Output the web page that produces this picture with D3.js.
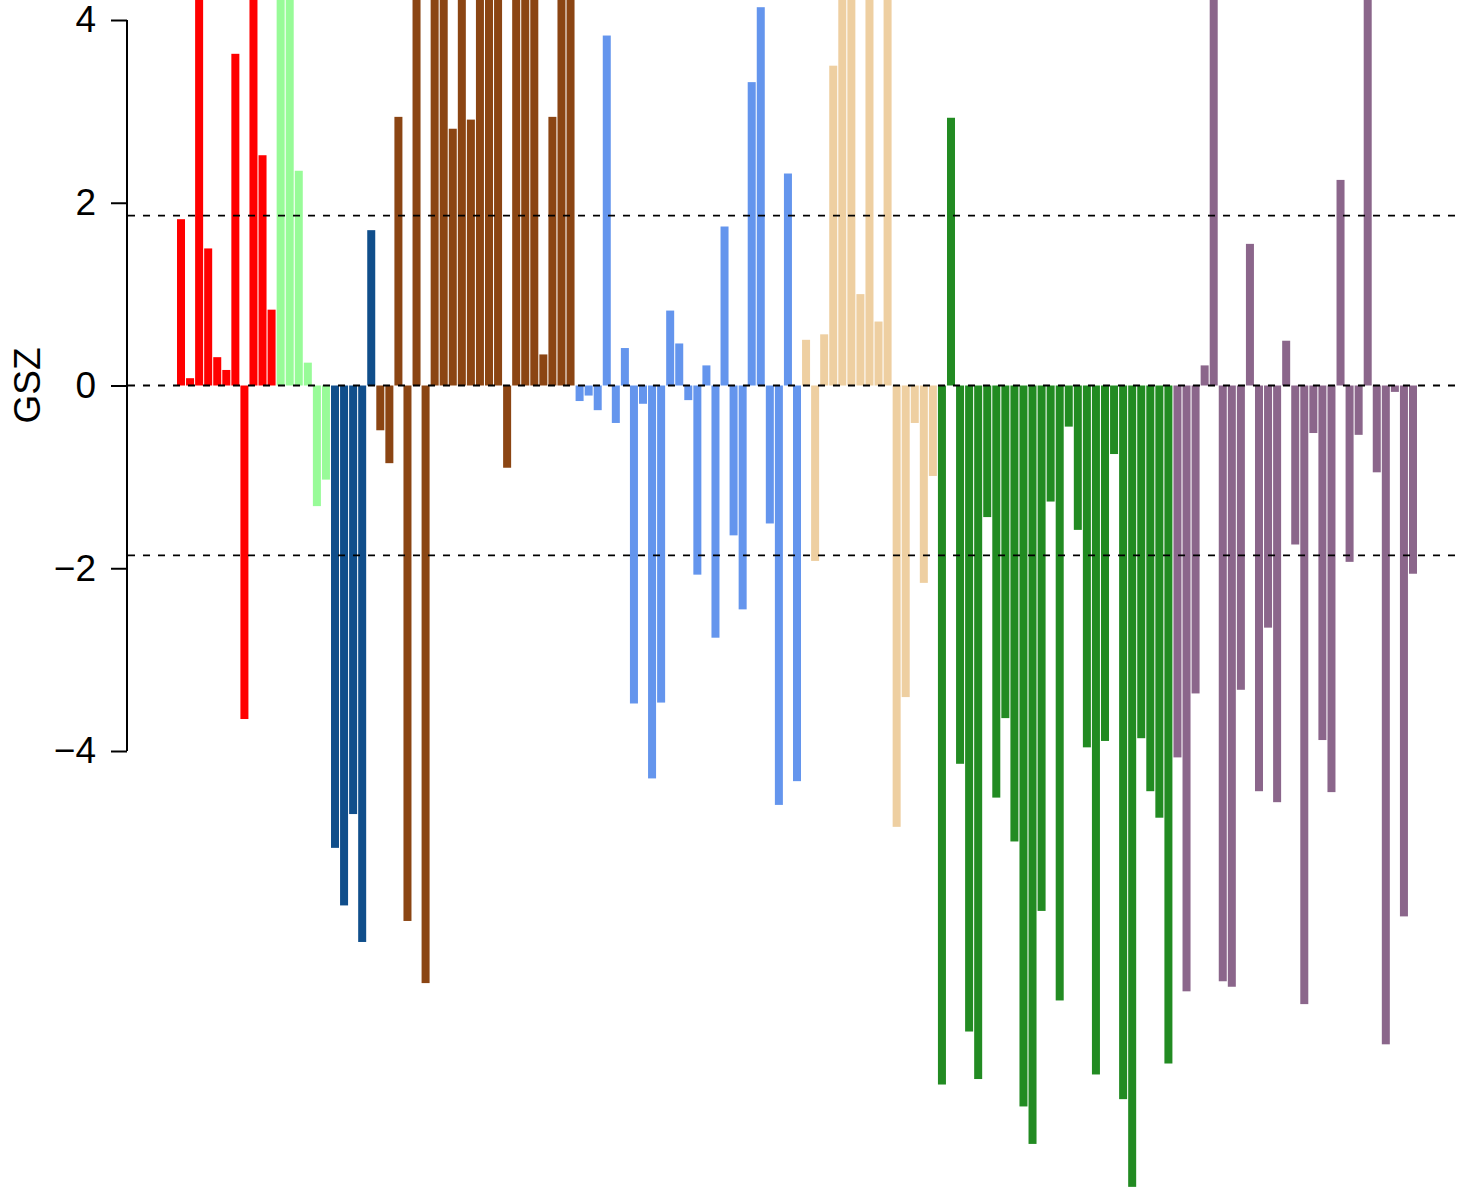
<!DOCTYPE html>
<html>
<head>
<meta charset="utf-8">
<script src="https://cdn.jsdelivr.net/npm/d3@7"></script>
<style>
    body { margin: 0; background: #fff; }
    text { font-family: "Liberation Sans", Arial, sans-serif; }
</style>
</head>
<body>
<div id="gsz_chart"></div>
<script>
// GSZ values per group, left to right (bars above 4 run off the top of the page)
var redVals = [1.82, 0.08, 5.6, 1.50, 0.31, 0.17, 3.63, -3.65, 5.2, 2.52, 0.83]
var paleGreenVals = [5.4, 4.9, 2.35, 0.25, -1.32, -1.03]
var navyVals = [-5.06, -5.69, -4.69, -6.09, 1.70]
var brownVals = [-0.49, -0.85, 2.94, -5.86, 6.1, -6.54, 5.3, 4.8, 2.81, 5.9, 2.91, 6.4,
    5.0, 4.7, -0.90, 5.5, 6.8, 4.9, 0.34, 2.94, 5.2, 7.1]
var cornflowerVals = [-0.17, -0.11, -0.27, 3.83, -0.41, 0.41, -3.48, -0.20, -4.30, -3.47,
    0.82, 0.46, -0.16, -2.07, 0.22, -2.76, 1.74, -1.64, -2.45, 3.32, 4.14, -1.51, -4.59, 2.32, -4.33]
var tanVals = [0.50, -1.92, 0.56, 3.50, 5.1, 4.6, 1.00, 5.8, 0.70, 4.9, -4.83, -3.41, -0.41, -2.16, -0.99]
var greenVals = [-7.65, 2.93, -4.14, -7.07, -7.59, -1.44, -4.51, -3.64, -4.99, -7.89, -8.30, -5.75, -1.27,
    -6.73, -0.45, -1.58, -3.96, -7.54, -3.89, -0.75, -7.81, -8.77, -3.86, -4.44, -4.73, -7.42]
var plumVals = [-4.07, -6.63, -3.37, 0.22, 6.3, -6.52, -6.58, -3.33, 1.55, -4.44, -2.65, -4.56, 0.49,
    -1.74, -6.77, -0.52, -3.88, -4.45, 2.25, -1.93, -0.54, 5.7, -0.95, -7.21, -0.07, -5.81, -2.06]

var groupVals = [redVals, paleGreenVals, navyVals, brownVals, cornflowerVals, tanVals, greenVals, plumVals]
var groupColors = ["#FF0000", "#98FB98", "#104E8B", "#8B4513", "#6495ED", "#EECFA1", "#228B22", "#8B668B"]

var yTicks = [-4, -2, 0, 2, 4]
var refLines = [-1.86, 0, 1.86]
var yLabel = "GSZ"

var width = 1458,
    height = 1191;

var data = []
groupVals.forEach(function(vals, g) {
    vals.forEach(function(v) {
        data.push({ i: data.length, gsz: v, color: groupColors[g] })
    })
})

var svg = d3.select("#gsz_chart")
    .append("svg")
    .attr("width", width)
    .attr("height", height)

var x = d3.scaleBand()
    .domain(data.map(function(d) { return d.i; }))
    .range([177, 1417])
    .paddingInner(0.116)
    .paddingOuter(0)

var y = d3.scaleLinear()
    .domain([-4, 4])
    .range([751, 20])

// bars
svg.append("g")
    .selectAll("rect")
    .data(data)
    .enter()
    .append("rect")
    .attr("x", function(d) { return x(d.i); })
    .attr("y", function(d) { return y(Math.max(0, d.gsz)); })
    .attr("width", x.bandwidth())
    .attr("height", function(d) { return Math.abs(y(d.gsz) - y(0)); })
    .attr("fill", function(d) { return d.color; })

// dashed reference lines
svg.append("g")
    .selectAll("line")
    .data(refLines)
    .enter()
    .append("line")
    .attr("x1", 128)
    .attr("x2", width)
    .attr("y1", function(d) { return y(d); })
    .attr("y2", function(d) { return y(d); })
    .attr("stroke", "#000")
    .attr("stroke-width", 1.8)
    .attr("stroke-dasharray", "7,8")

// y axis
var yAxis = svg.append("g")
    .attr("transform", "translate(127,0)")
    .call(d3.axisLeft(y)
        .tickValues(yTicks)
        .tickSize(16)
        .tickPadding(15)
        .tickFormat(function(d) { return d < 0 ? "\u2212" + Math.abs(d) : d; }))

yAxis.select(".domain")
    .attr("d", "M0," + y(4) + "V" + y(-4))
    .attr("stroke-width", 2)
yAxis.selectAll(".tick line").attr("stroke-width", 2)
yAxis.selectAll(".tick text")
    .attr("font-size", 37)
    .attr("font-family", "'Liberation Sans', Arial, sans-serif")
    .attr("fill", "#000")

svg.append("text")
    .attr("transform", "translate(40," + y(0) + ") rotate(-90)")
    .attr("text-anchor", "middle")
    .attr("font-size", 37)
    .text(yLabel)
</script>
</body>
</html>
